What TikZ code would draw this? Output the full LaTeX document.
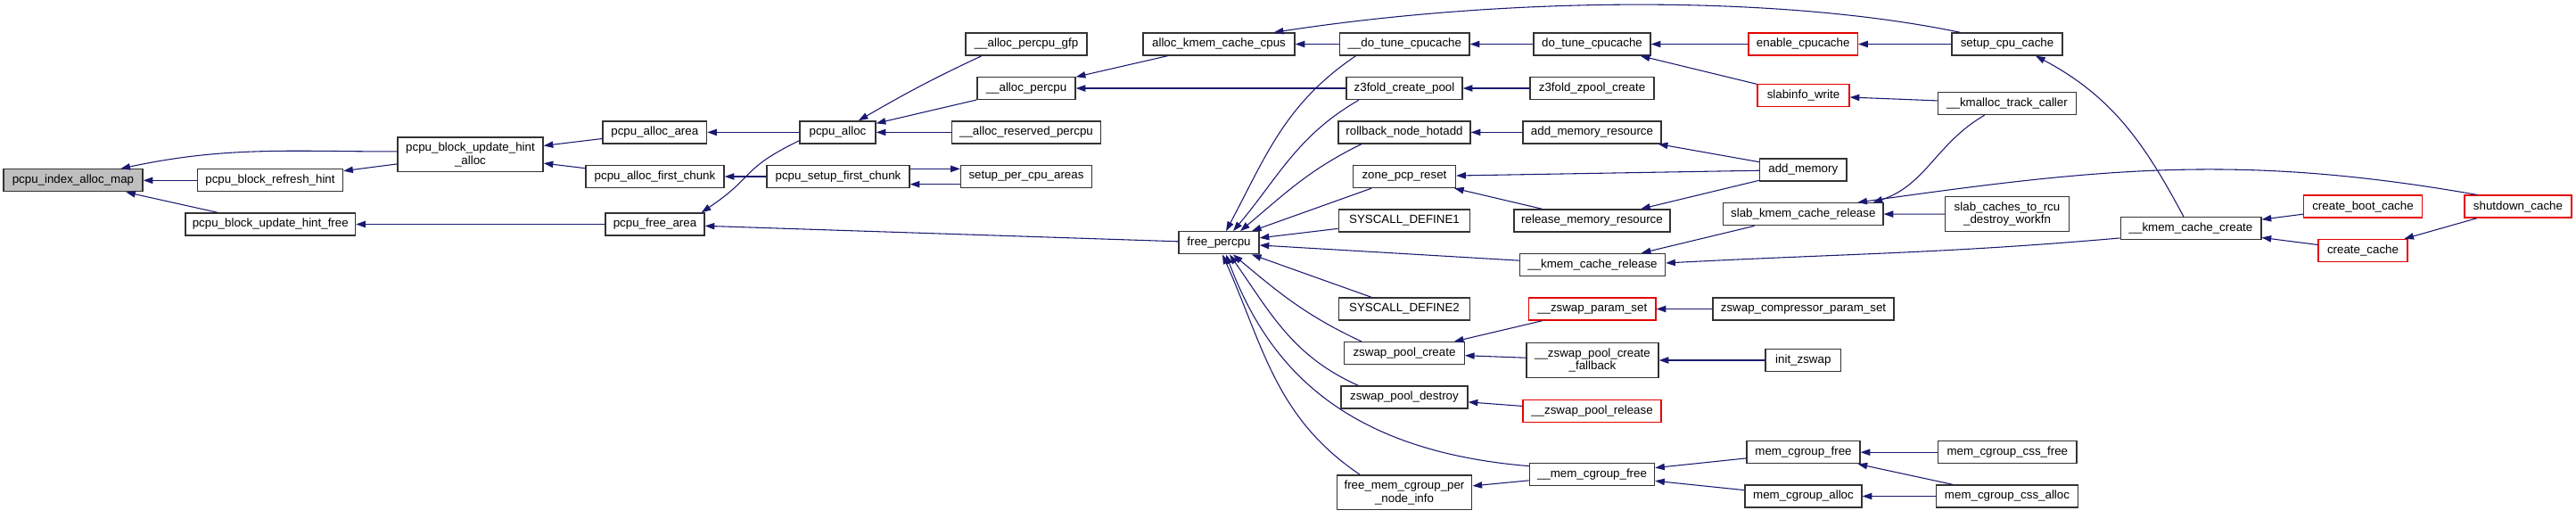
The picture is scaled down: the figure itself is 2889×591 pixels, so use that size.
\documentclass[tikz,border=0pt]{standalone}
\usepackage{fontspec}
\setmainfont{Liberation Sans}
\usetikzlibrary{arrows.meta}
\definecolor{edgeblue}{RGB}{25,25,112}

\begin{document}
\begin{tikzpicture}[x=0.75pt, y=-0.75pt, >={Triangle[length=8pt,width=5.5pt]},
    every node/.style={font=\fontsize{10}{11}\selectfont},
    fn/.style={draw=black!80, line width=1pt, fill=white, minimum height=18.75pt, inner sep=0pt, align=center},
    twoline/.style={minimum height=29pt},
    rootfn/.style={fn, fill=black!25},
    redfn/.style={fn, draw=red!90!black},
    bw/.style={minimum width=#1*0.75pt},
    edge/.style={draw=edgeblue, line width=0.8pt, ->}]
    \fill[white] (0,0) rectangle (2889,591);
    \useasboundingbox (0,0) rectangle (2889,591);

    % Root and its direct callers
    \node[rootfn, bw=156] (map) at (82,202.3) {pcpu\_index\_alloc\_map};
    \node[fn, bw=163] (refresh) at (303,202.3) {pcpu\_block\_refresh\_hint};
    \node[fn, bw=190.5] (hintfree) at (303.3,251.5) {pcpu\_block\_update\_hint\_free};
    \node[fn, twoline, bw=163] (hintalloc) at (527.5,173.3) {pcpu\_block\_update\_hint\\\_alloc};

    % pcpu allocator
    \node[fn, bw=116.5] (allocarea) at (734.3,148.4) {pcpu\_alloc\_area};
    \node[fn, bw=155] (firstchunk) at (734.5,198) {pcpu\_alloc\_first\_chunk};
    \node[fn, bw=111] (freearea) at (734.5,251.5) {pcpu\_free\_area};
    \node[fn, bw=85] (palloc) at (939.5,148.4) {pcpu\_alloc};
    \node[fn, bw=160] (setupfc) at (940,198) {pcpu\_setup\_first\_chunk};
    \node[fn, bw=136] (gfp) at (1151,49.5) {\_\_alloc\_percpu\_gfp};
    \node[fn, bw=110] (apercpu) at (1151,99) {\_\_alloc\_percpu};
    \node[fn, bw=167] (reserved) at (1151,148.4) {\_\_alloc\_reserved\_percpu};
    \node[fn, bw=147] (setupareas) at (1151,198) {setup\_per\_cpu\_areas};
    \node[fn, bw=170] (akcc) at (1367,49.5) {alloc\_kmem\_cache\_cpus};
    \node[fn, bw=90] (freepercpu) at (1367,272.3) {free\_percpu};

    % Callers of free_percpu
    \node[fn, bw=145.5] (dotune) at (1575.3,49.5) {\_\_do\_tune\_cpucache};
    \node[fn, bw=130] (z3cp) at (1575,99) {z3fold\_create\_pool};
    \node[fn, bw=148] (rollback) at (1575,148.4) {rollback\_node\_hotadd};
    \node[fn, bw=115] (zpr) at (1575,198) {zone\_pcp\_reset};
    \node[fn, bw=147.5] (sd1) at (1575,247.5) {SYSCALL\_DEFINE1};
    \node[fn, bw=147.5] (sd2) at (1575,346.5) {SYSCALL\_DEFINE2};
    \node[fn, bw=134.5] (zpc) at (1575,396.2) {zswap\_pool\_create};
    \node[fn, bw=142] (zpd) at (1575,445.5) {zswap\_pool\_destroy};
    \node[fn, twoline, bw=151.6] (fmc) at (1575,552.3) {free\_mem\_cgroup\_per\\\_node\_info};

    % Next column
    \node[fn, bw=131] (dtc) at (1785.5,49.5) {do\_tune\_cpucache};
    \node[fn, bw=139] (z3zc) at (1785.5,99) {z3fold\_zpool\_create};
    \node[fn, bw=155] (amr) at (1785.5,148.4) {add\_memory\_resource};
    \node[fn, bw=175] (rmr) at (1785.5,247.5) {release\_memory\_resource};
    \node[fn, bw=163] (kcr) at (1786,297) {\_\_kmem\_cache\_release};
    \node[redfn, bw=142.6] (zps) at (1785.7,346.5) {\_\_zswap\_param\_set};
    \node[fn, twoline, bw=148] (fallback) at (1786,404) {\_\_zswap\_pool\_create\\\_fallback};
    \node[redfn, bw=155] (zprel) at (1785.5,461.3) {\_\_zswap\_pool\_release};
    \node[fn, bw=140] (mcf) at (1785.5,532) {\_\_mem\_cgroup\_free};

    \node[redfn, bw=122.4] (enable) at (2022.2,49.5) {enable\_cpucache};
    \node[redfn, bw=103] (slabinfo) at (2022.5,107) {slabinfo\_write};
    \node[fn, bw=97.4] (addmem) at (2022.3,190.4) {add\_memory};
    \node[fn, bw=179.3] (skcr) at (2022.3,240.2) {slab\_kmem\_cache\_release};
    \node[fn, bw=203] (zcps) at (2022.5,346.5) {zswap\_compressor\_param\_set};
    \node[fn, bw=84.6] (initz) at (2022.3,404) {init\_zswap};
    \node[fn, bw=127] (mcgf) at (2022.5,507.2) {mem\_cgroup\_free};
    \node[fn, bw=131] (mcga) at (2022.5,556.5) {mem\_cgroup\_alloc};

    \node[fn, bw=124] (setupcc) at (2251,49.5) {setup\_cpu\_cache};
    \node[fn, bw=155] (kmtc) at (2251,116) {\_\_kmalloc\_track\_caller};
    \node[fn, twoline, bw=138.5] (rcu) at (2251,240) {slab\_caches\_to\_rcu\\\_destroy\_workfn};
    \node[fn, bw=155.3] (cssfree) at (2251.3,507.2) {mem\_cgroup\_css\_free};
    \node[fn, bw=159] (cssalloc) at (2251,556.5) {mem\_cgroup\_css\_alloc};

    % Cache creation
    \node[fn, bw=157.7] (kcc) at (2457,256.3) {\_\_kmem\_cache\_create};
    \node[redfn, bw=132.4] (cbc) at (2650,231.6) {create\_boot\_cache};
    \node[redfn, bw=100] (cc) at (2650,281) {create\_cache};
    \node[redfn, bw=120] (shutdown) at (2824,231.6) {shutdown\_cache};

    % Edges, caller -> callee
    \draw[edge] ([yshift=2.5pt]hintalloc.west) to[out=180,in=12] ([xshift=-19pt]map.north east);
    \draw[edge] (refresh) -- (map);
    \draw[edge] (hintfree) -- (map);
    \draw[edge] (hintalloc) -- (refresh);
    \draw[edge] (freearea) -- (hintfree);
    \draw[edge] (allocarea) -- (hintalloc);
    \draw[edge] (firstchunk) -- (hintalloc);
    \draw[edge] (palloc) -- (allocarea);
    \draw[edge] (setupfc) -- (firstchunk);
    \draw[edge] ([yshift=-7pt]palloc.west) to[out=206,in=34,looseness=1.4] ([xshift=-3pt]freearea.north east);
    \draw[edge] (freepercpu) -- (freearea);
    \draw[edge] ([xshift=14pt]gfp.south west) to[out=205,in=30] ([xshift=17.5pt]palloc.north);
    \draw[edge] (apercpu) -- (palloc);
    \draw[edge] (reserved) -- (palloc);
    \draw[edge] ([yshift=6.5pt]setupfc.east) -- ([yshift=6.5pt]setupareas.west);
    \draw[edge] ([yshift=-6.5pt]setupareas.west) -- ([yshift=-6.5pt]setupfc.east);
    \draw[edge] (akcc) -- (apercpu);
    \draw[edge] (z3cp) -- (apercpu);
    \draw[edge] (dotune) -- (akcc);
    \draw[edge] ([xshift=7.5pt]setupcc.north west) .. controls (2000,-5) and (1700,-5) .. ([xshift=-18pt]akcc.north east);

    % fan into free_percpu
    \draw[edge] ([xshift=14pt]dotune.south west) to[out=214,in=62] ([xshift=6pt]freepercpu.north);
    \draw[edge] ([xshift=11pt]z3cp.south west) to[out=210,in=50] ([xshift=12pt]freepercpu.north);
    \draw[edge] ([xshift=20pt]rollback.south west) to[out=206,in=40] ([xshift=18pt]freepercpu.north);
    \draw[edge] (zpr) -- (freepercpu);
    \draw[edge] (sd1) -- (freepercpu);
    \draw[edge] (kcr) -- (freepercpu);
    \draw[edge] (sd2) -- (freepercpu);
    \draw[edge] ([xshift=15pt]zpc.north west) to[out=155,in=-40] ([xshift=12pt]freepercpu.south);
    \draw[edge] ([xshift=15pt]zpd.north west) to[out=156,in=-55] ([xshift=9pt]freepercpu.south);
    \draw[edge] ([yshift=7pt]mcf.west) .. controls (1500,505) and (1420,405) .. ([xshift=6pt]freepercpu.south);
    \draw[edge] ([xshift=20pt]fmc.north west) to[out=146,in=-66] ([xshift=3pt]freepercpu.south);

    \draw[edge] (dtc) -- (dotune);
    \draw[edge] (z3zc) -- (z3cp);
    \draw[edge] (amr) -- (rollback);
    \draw[edge] (addmem) -- (zpr);
    \draw[edge] (rmr) -- (zpr);
    \draw[edge] (zps) -- (zpc);
    \draw[edge] (fallback) -- (zpc);
    \draw[edge] (zprel) -- (zpd);
    \draw[edge] (mcf) -- (fmc);

    \draw[edge] (enable) -- (dtc);
    \draw[edge] (slabinfo) -- (dtc);
    \draw[edge] (addmem) -- (amr);
    \draw[edge] (addmem) -- (rmr);
    \draw[edge] (skcr) -- (kcr);
    \draw[edge] ([yshift=-8pt]kcc.west) to[out=185,in=3] ([yshift=1.5pt]kcr.east);
    \draw[edge] (zcps) -- (zps);
    \draw[edge] (initz) -- (fallback);
    \draw[edge] (mcgf) -- (mcf);
    \draw[edge] (mcga) -- (mcf);

    \draw[edge] (setupcc) -- (enable);
    \draw[edge] (kmtc) -- (slabinfo);
    \draw[edge] ([xshift=-19pt]kmtc.south) to[out=210,in=18] ([xshift=-9pt]skcr.north east);
    \draw[edge] ([xshift=11pt]shutdown.north west) to[out=170,in=8] ([xshift=-22pt]skcr.north east);
    \draw[edge] (rcu) -- (skcr);
    \draw[edge] (cssfree) -- (mcgf);
    \draw[edge] (cssalloc) -- (mcgf);
    \draw[edge] (cssalloc) -- (mcga);

    \draw[edge] ([xshift=-6pt]kcc.north) to[out=118,in=-28] ([xshift=24pt]setupcc.south);
    \draw[edge] (cbc) -- (kcc);
    \draw[edge] (cc) -- (kcc);
    \draw[edge] (shutdown) -- (cc);
\end{tikzpicture}
\end{document}
